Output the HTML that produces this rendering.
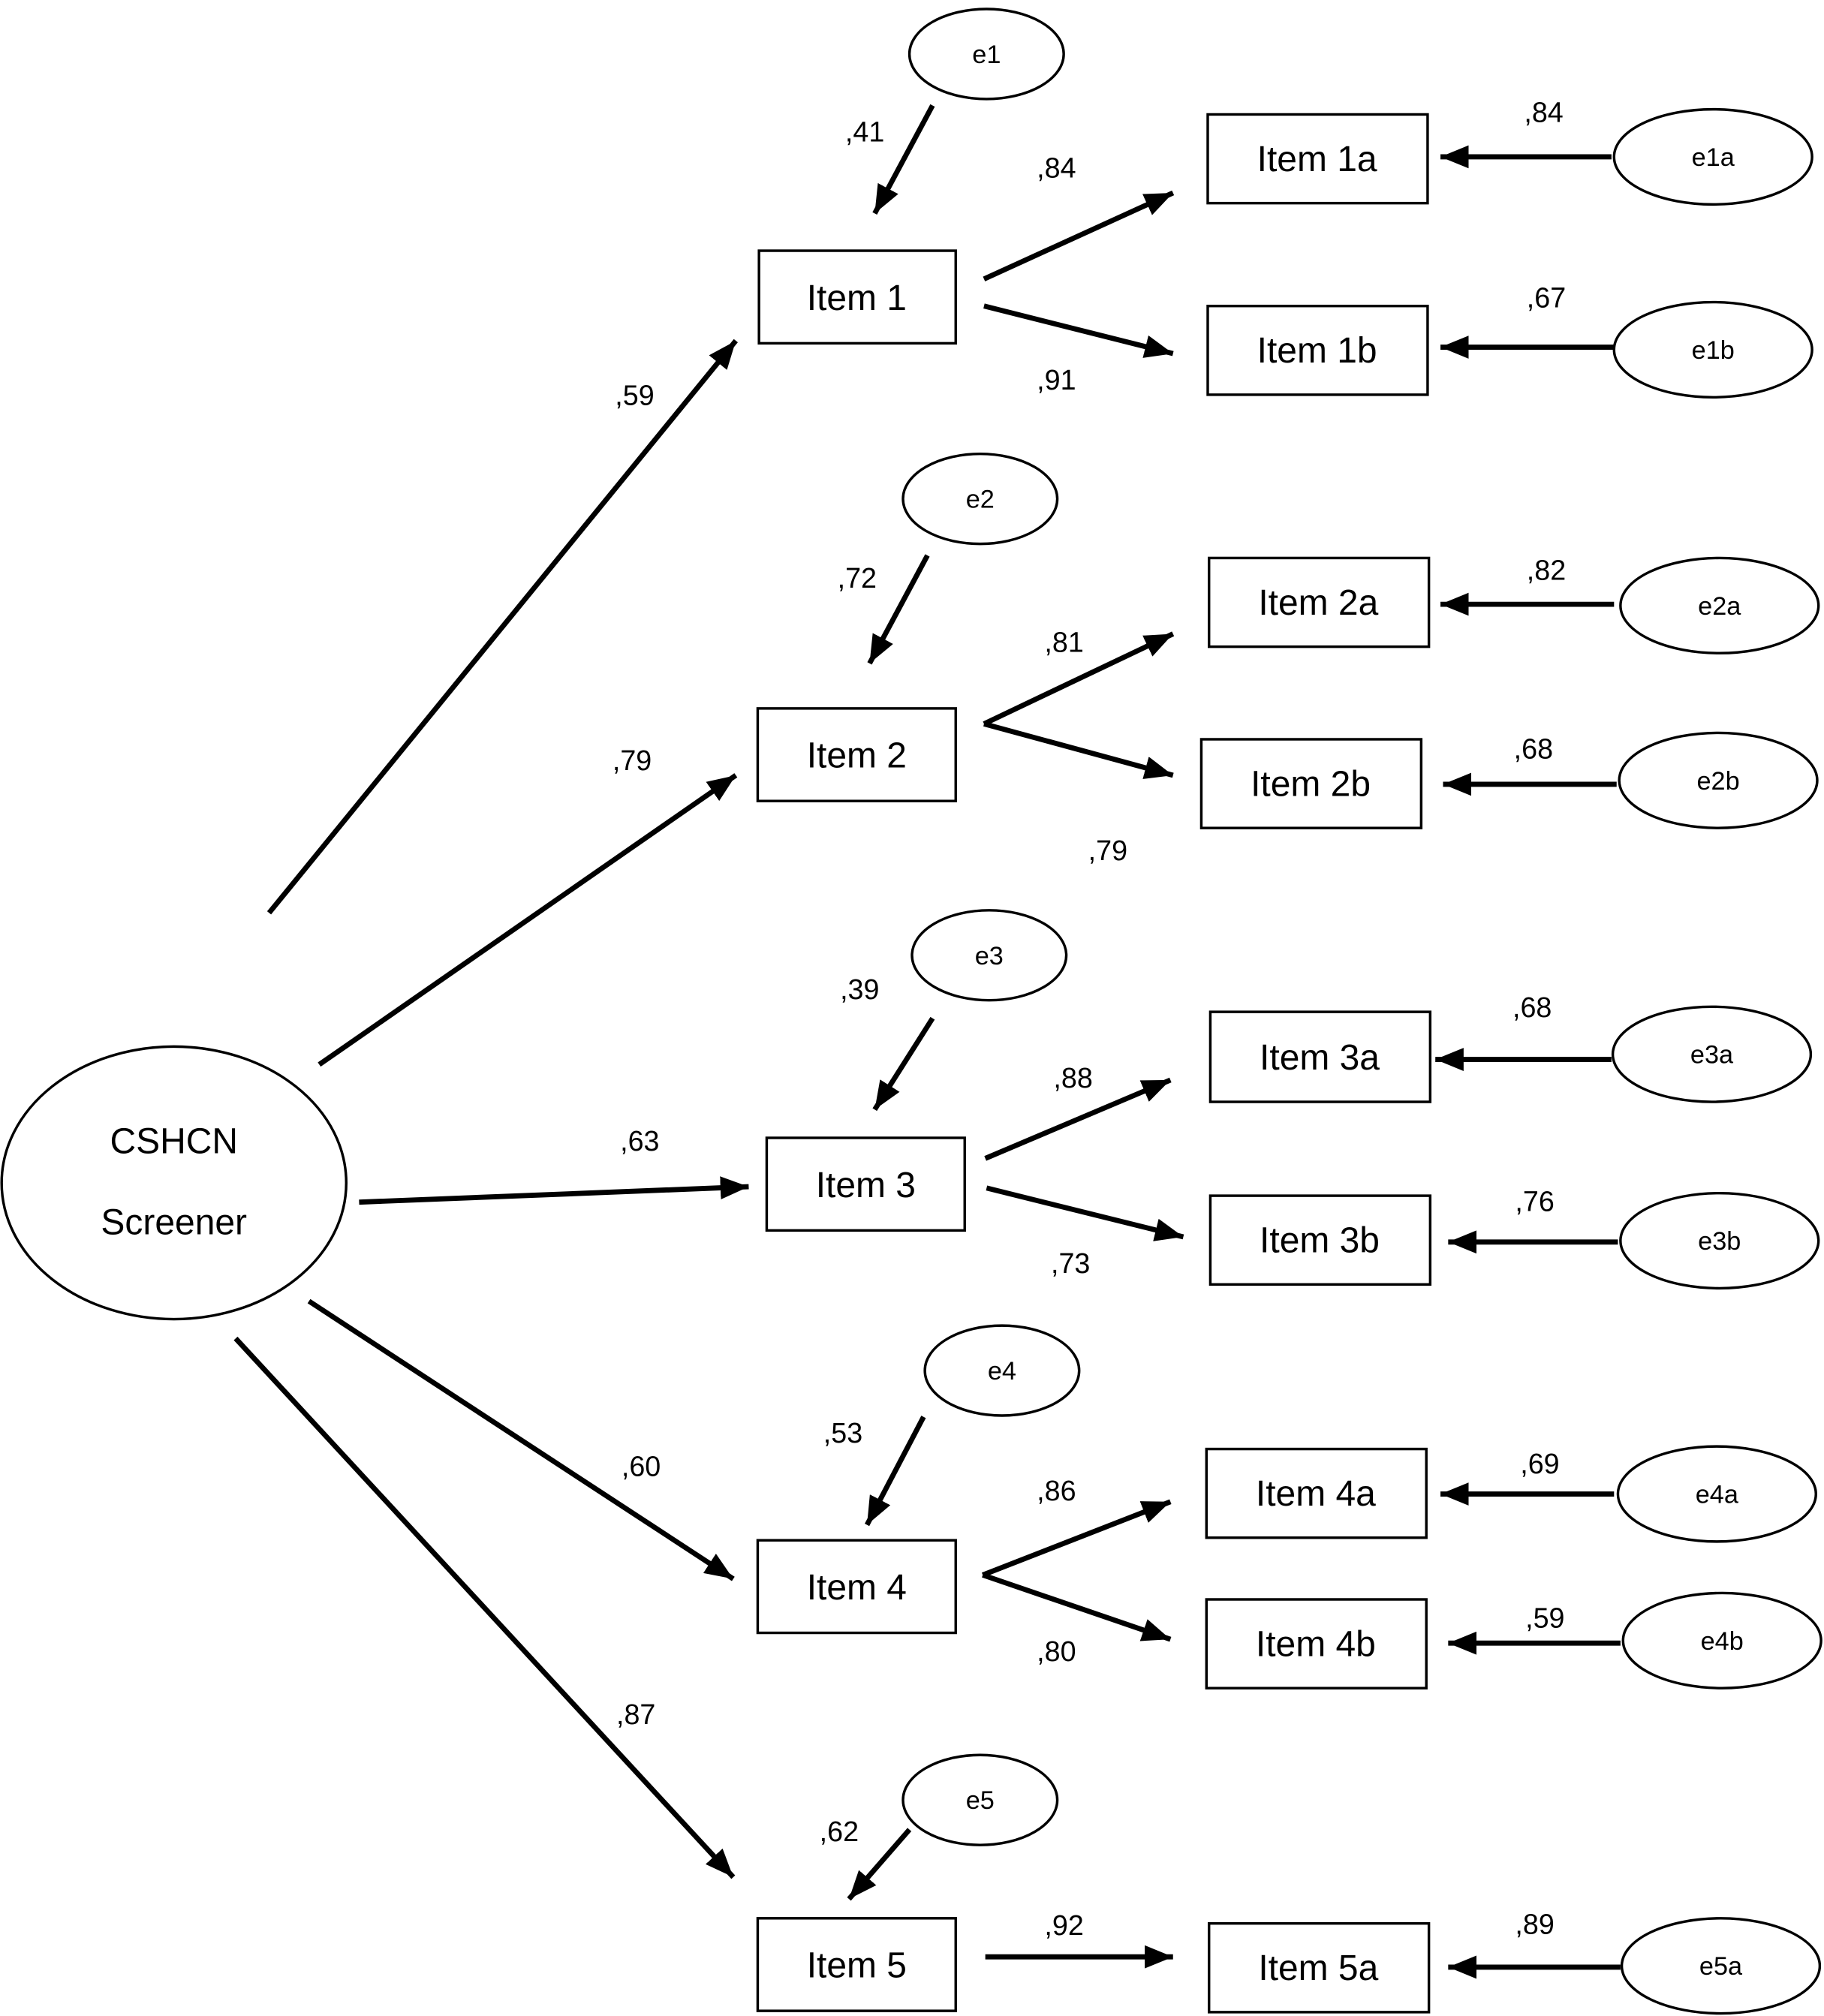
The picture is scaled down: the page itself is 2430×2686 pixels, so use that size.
<!DOCTYPE html>
<html><head><meta charset="utf-8"><style>html,body{margin:0;padding:0;background:#fff}svg{display:block}</style></head>
<body>
<svg width="2430" height="2686" viewBox="0 0 1418 1568" xmlns="http://www.w3.org/2000/svg" font-family="Liberation Sans, sans-serif">
<defs><marker id="a" markerUnits="userSpaceOnUse" markerWidth="24" markerHeight="18" refX="22" refY="9" orient="auto"><path d="M0,0 L22,9 L0,18 Z" fill="#000"/></marker></defs>
<g fill="none" stroke="#000" stroke-width="2">
<ellipse cx="135" cy="920" rx="134" ry="106"/>
<rect x="590" y="195" width="153" height="72"/>
<rect x="589" y="551" width="154" height="72"/>
<rect x="596" y="885" width="154" height="72"/>
<rect x="589" y="1198" width="154" height="72"/>
<rect x="589" y="1492" width="154" height="72"/>
<rect x="939" y="89" width="171" height="69"/>
<rect x="939" y="238" width="171" height="69"/>
<rect x="940" y="434" width="171" height="69"/>
<rect x="934" y="575" width="171" height="69"/>
<rect x="941" y="787" width="171" height="70"/>
<rect x="941" y="930" width="171" height="69"/>
<rect x="938" y="1127" width="171" height="69"/>
<rect x="938" y="1244" width="171" height="69"/>
<rect x="940" y="1496" width="171" height="69"/>
<ellipse cx="767" cy="42" rx="60" ry="35"/>
<ellipse cx="762" cy="388" rx="60" ry="35"/>
<ellipse cx="769" cy="743" rx="60" ry="35"/>
<ellipse cx="779" cy="1066" rx="60" ry="35"/>
<ellipse cx="762" cy="1400" rx="60" ry="35"/>
<ellipse cx="1332" cy="122" rx="77" ry="37"/>
<ellipse cx="1332" cy="272" rx="77" ry="37"/>
<ellipse cx="1337" cy="471" rx="77" ry="37"/>
<ellipse cx="1336" cy="607" rx="77" ry="37"/>
<ellipse cx="1331" cy="820" rx="77" ry="37"/>
<ellipse cx="1337" cy="965" rx="77" ry="37"/>
<ellipse cx="1335" cy="1162" rx="77" ry="37"/>
<ellipse cx="1339" cy="1276" rx="77" ry="37"/>
<ellipse cx="1338" cy="1529" rx="77" ry="37"/>
</g>
<g stroke="#000" stroke-width="4" marker-end="url(#a)">
<line x1="209" y1="710" x2="572" y2="265"/>
<line x1="248" y1="828" x2="572" y2="603"/>
<line x1="279" y1="935" x2="582" y2="923"/>
<line x1="240" y1="1012" x2="570" y2="1228"/>
<line x1="183" y1="1041" x2="570" y2="1460"/>
<line x1="765" y1="217" x2="912" y2="150"/>
<line x1="765" y1="238" x2="912" y2="275"/>
<line x1="765" y1="563" x2="912" y2="493"/>
<line x1="765" y1="563" x2="912" y2="603"/>
<line x1="766" y1="901" x2="910" y2="840"/>
<line x1="767" y1="924" x2="920" y2="962"/>
<line x1="764" y1="1225" x2="910" y2="1168"/>
<line x1="764" y1="1225" x2="910" y2="1275"/>
<line x1="766" y1="1522" x2="912" y2="1522"/>
<line x1="725" y1="82" x2="680" y2="166"/>
<line x1="721" y1="432" x2="676" y2="516"/>
<line x1="725" y1="792" x2="680" y2="863"/>
<line x1="718" y1="1102" x2="674" y2="1186"/>
<line x1="707" y1="1423" x2="660" y2="1477"/>
<line x1="1253" y1="122" x2="1120" y2="122"/>
<line x1="1255" y1="270" x2="1120" y2="270"/>
<line x1="1255" y1="470" x2="1120" y2="470"/>
<line x1="1257" y1="610" x2="1122" y2="610"/>
<line x1="1253" y1="824" x2="1116" y2="824"/>
<line x1="1258" y1="966" x2="1126" y2="966"/>
<line x1="1255" y1="1162" x2="1120" y2="1162"/>
<line x1="1260" y1="1278" x2="1126" y2="1278"/>
<line x1="1260" y1="1530" x2="1126" y2="1530"/>
</g>
<g font-size="28" text-anchor="middle" fill="#000">
<text x="135" y="897">CSHCN</text><text x="135" y="960">Screener</text>
<text x="666" y="241">Item 1</text><text x="666" y="597">Item 2</text><text x="673" y="931">Item 3</text><text x="666" y="1244">Item 4</text><text x="666" y="1538">Item 5</text>
<text x="1024" y="133">Item 1a</text><text x="1024" y="282">Item 1b</text><text x="1025" y="478">Item 2a</text><text x="1019" y="619">Item 2b</text><text x="1026" y="832">Item 3a</text><text x="1026" y="974">Item 3b</text><text x="1023" y="1171">Item 4a</text><text x="1023" y="1288">Item 4b</text><text x="1025" y="1540">Item 5a</text>
</g>
<g font-size="20" text-anchor="middle" fill="#000">
<text x="767" y="49">e1</text><text x="762" y="395">e2</text><text x="769" y="750">e3</text><text x="779" y="1073">e4</text><text x="762" y="1407">e5</text>
<text x="1332" y="129">e1a</text><text x="1332" y="279">e1b</text><text x="1337" y="478">e2a</text><text x="1336" y="614">e2b</text><text x="1331" y="827">e3a</text><text x="1337" y="972">e3b</text><text x="1335" y="1169">e4a</text><text x="1339" y="1283">e4b</text><text x="1338" y="1536">e5a</text>
</g>
<g font-size="22" fill="#000">
<text x="657" y="110">,41</text><text x="806" y="138">,84</text><text x="806" y="303">,91</text><text x="478" y="315">,59</text><text x="1185" y="95">,84</text><text x="1187" y="239">,67</text>
<text x="651" y="457">,72</text><text x="812" y="507">,81</text><text x="846" y="669">,79</text><text x="476" y="599">,79</text><text x="1187" y="451">,82</text><text x="1177" y="590">,68</text>
<text x="653" y="777">,39</text><text x="819" y="846">,88</text><text x="817" y="990">,73</text><text x="482" y="895">,63</text><text x="1176" y="791">,68</text><text x="1178" y="942">,76</text>
<text x="640" y="1122">,53</text><text x="806" y="1167">,86</text><text x="806" y="1292">,80</text><text x="483" y="1148">,60</text><text x="1182" y="1146">,69</text><text x="1186" y="1266">,59</text>
<text x="479" y="1341">,87</text><text x="637" y="1432">,62</text><text x="812" y="1505">,92</text><text x="1178" y="1504">,89</text>
</g>
</svg>
</body></html>
